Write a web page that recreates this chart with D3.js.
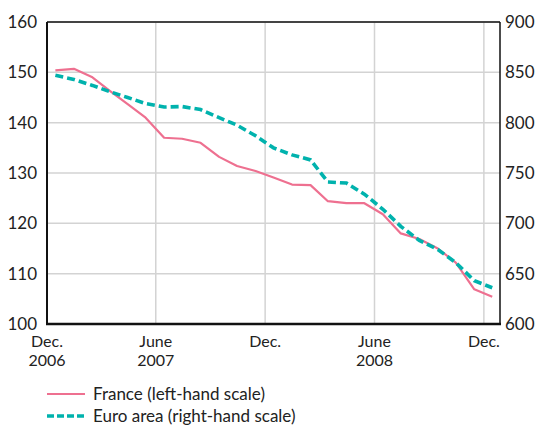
<!DOCTYPE html>
<html><head><meta charset="utf-8">
<script src="https://cdn.jsdelivr.net/npm/d3@7"></script>
<style>body{margin:0;background:#fff}svg{display:block}text{font-family:Lato,"Open Sans",sans-serif;fill:#222}</style>
</head><body><svg id="c" width="535" height="425"></svg>
<script>
const months = ["2006-12","2007-01","2007-02","2007-03","2007-04","2007-05","2007-06","2007-07","2007-08","2007-09","2007-10","2007-11","2007-12","2008-01","2008-02","2008-03","2008-04","2008-05","2008-06","2008-07","2008-08","2008-09","2008-10","2008-11","2008-12"];
const france = [150.4,150.7,149.0,146.4,143.7,141.0,137.0,136.8,136.0,133.2,131.4,130.4,129.1,127.7,127.6,124.4,124.0,124.0,121.8,118.0,116.9,115.0,112.2,106.9,105.4];
const euro = [847,843,837,831,825,819,815.5,816,813,805,797.5,787,775,768,763,741,740,729,714,697,683,674,661,643,636];
const leftTicks = [100,110,120,130,140,150,160];
const rightTicks = [600,650,700,750,800,850,900];
const xTicks = [{d:"2006-12-01",l1:"Dec.",l2:"2006"},{d:"2007-06-01",l1:"June",l2:"2007"},{d:"2007-12-01",l1:"Dec.",l2:""},{d:"2008-06-01",l1:"June",l2:"2008"},{d:"2008-12-01",l1:"Dec.",l2:""}];
const legendItems = [{label:"France (left-hand scale)",key:"fr"},{label:"Euro area (right-hand scale)",key:"eu"}];

const svg = d3.select("#c");
const L=47,R=500,T=22,B=324;
const parse = d3.timeParse("%Y-%m-%d");
const x = d3.scaleTime().domain([parse("2006-12-01"), parse("2008-12-28")]).range([L,R]);
const yL = d3.scaleLinear().domain([100,160]).range([B,T]);
const yR = d3.scaleLinear().domain([600,900]).range([B,T]);
const dates = months.map(m=>parse(m+"-15"));

// grid
const g = svg.append("g");
g.selectAll(".hg").data(leftTicks.slice(1)).join("line")
  .attr("x1",L).attr("x2",R).attr("y1",d=>yL(d)).attr("y2",d=>yL(d))
  .attr("stroke","#d3d3d3").attr("stroke-width",1.5);
g.selectAll(".vg").data(xTicks.slice(1)).join("line")
  .attr("x1",d=>x(parse(d.d))).attr("x2",d=>x(parse(d.d))).attr("y1",T).attr("y2",B)
  .attr("stroke","#d3d3d3").attr("stroke-width",1.5);

// lines
const st = {fr:{c:"#ee7090",w:2.2,dash:null},eu:{c:"#00b2ad",w:3.6,dash:"8,4"}};
const lineF = d3.line().x((d,i)=>x(dates[i])).y(d=>yL(d));
const lineE = d3.line().x((d,i)=>x(dates[i])).y(d=>yR(d));
svg.append("path").attr("d",lineF(france)).attr("fill","none").attr("stroke",st.fr.c).attr("stroke-width",st.fr.w).attr("stroke-linejoin","round");
svg.append("path").attr("d",lineE(euro)).attr("fill","none").attr("stroke",st.eu.c).attr("stroke-width",st.eu.w).attr("stroke-dasharray",st.eu.dash);

// frame
svg.append("line").attr("x1",L).attr("x2",R).attr("y1",T).attr("y2",T).attr("stroke","#111").attr("stroke-width",1.5);
svg.append("line").attr("x1",R).attr("x2",R).attr("y1",T).attr("y2",B).attr("stroke","#111").attr("stroke-width",1.5);
svg.append("line").attr("x1",L).attr("x2",L).attr("y1",T).attr("y2",B+1).attr("stroke","#111").attr("stroke-width",2);
svg.append("line").attr("x1",L-1).attr("x2",R+1).attr("y1",B).attr("y2",B).attr("stroke","#111").attr("stroke-width",2.5);

// axes labels
const fs = 17;
svg.selectAll(".lt").data(leftTicks).join("text").attr("x",37).attr("y",d=>yL(d)).attr("dy","0.35em")
  .attr("text-anchor","end").attr("font-size",fs).text(d=>d);
svg.selectAll(".rt").data(rightTicks).join("text").attr("x",505).attr("y",d=>yR(d)).attr("dy","0.35em")
  .attr("text-anchor","start").attr("font-size",fs).text(d=>d);
const xl = svg.selectAll(".xt").data(xTicks).join("g");
xl.append("text").attr("x",d=>x(parse(d.d))).attr("y",347).attr("text-anchor","middle").attr("font-size",16).text(d=>d.l1);
xl.append("text").attr("x",d=>x(parse(d.d))).attr("y",366).attr("text-anchor","middle").attr("font-size",16).text(d=>d.l2);

// legend
const lg = svg.selectAll(".lg").data(legendItems).join("g").attr("transform",(d,i)=>`translate(0,${394+i*22})`);
lg.append("line").attr("x1",47).attr("x2",85).attr("y1",0).attr("y2",0)
  .attr("stroke",d=>st[d.key].c).attr("stroke-width",d=>d.key==="fr"?2.2:3.6).attr("stroke-dasharray",d=>d.key==="eu"?"7,3":null);
lg.append("text").attr("x",93).attr("y",0).attr("dy","0.35em").attr("font-size",17).text(d=>d.label);
</script></body></html>
